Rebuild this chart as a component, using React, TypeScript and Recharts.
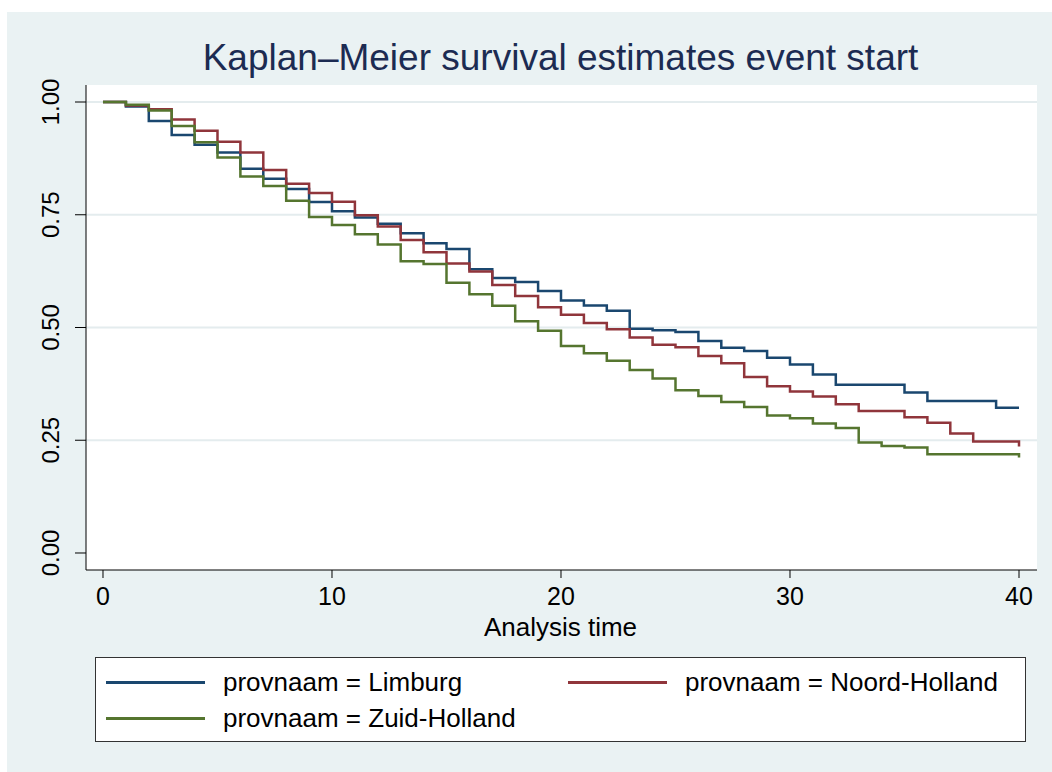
import { LineChart, Line, XAxis, YAxis, CartesianGrid } from 'recharts';

// analysis time (steps at whole units)
const times = [
    0, 1, 2, 3, 4, 5, 6, 7, 8, 9, 10, 11, 12, 13, 14, 15, 16, 17, 18, 19, 20,
    21, 22, 23, 24, 25, 26, 27, 28, 29, 30, 31, 32, 33, 34, 35, 36, 37, 38, 39, 40,
];

const limburg = [
    1.0, 0.99, 0.958, 0.927, 0.905, 0.888, 0.852, 0.83, 0.807, 0.778, 0.758,
    0.744, 0.73, 0.709, 0.687, 0.674, 0.629, 0.61, 0.601, 0.581, 0.56,
    0.549, 0.537, 0.497, 0.494, 0.49, 0.47, 0.455, 0.448, 0.433, 0.418,
    0.396, 0.373, 0.373, 0.373, 0.356, 0.337, 0.337, 0.337, 0.322, 0.322,
];

const noordHolland = [
    1.0, 0.992, 0.984, 0.961, 0.936, 0.912, 0.888, 0.849, 0.819, 0.798, 0.779,
    0.749, 0.724, 0.694, 0.667, 0.642, 0.624, 0.594, 0.57, 0.545, 0.528,
    0.51, 0.496, 0.478, 0.462, 0.456, 0.437, 0.421, 0.39, 0.37, 0.358,
    0.347, 0.33, 0.315, 0.315, 0.301, 0.289, 0.265, 0.247, 0.247, 0.236,
];

const zuidHolland = [
    1.0, 0.994, 0.981, 0.947, 0.911, 0.877, 0.835, 0.814, 0.781, 0.745, 0.727,
    0.707, 0.684, 0.647, 0.641, 0.599, 0.574, 0.548, 0.514, 0.493, 0.459,
    0.443, 0.426, 0.406, 0.387, 0.361, 0.348, 0.335, 0.324, 0.305, 0.299,
    0.287, 0.277, 0.245, 0.237, 0.234, 0.219, 0.219, 0.219, 0.219, 0.212,
];

const xTicks = [0, 10, 20, 30, 40];
const yTicks = [0, 0.25, 0.5, 0.75, 1];
const gridValues = [0.25, 0.5, 0.75, 1];

const series = [
    { key: 'limburg', label: 'provnaam = Limburg', color: '#1A476F' },
    { key: 'noord', label: 'provnaam = Noord-Holland', color: '#90353B' },
    { key: 'zuid', label: 'provnaam = Zuid-Holland', color: '#55752F' },
];

const data = times.map((t, i) => ({
    t,
    limburg: limburg[i],
    noord: noordHolland[i],
    zuid: zuidHolland[i],
}));

const FONT = '"Liberation Sans", Arial, sans-serif';

const XTick = ({ x, y, payload }: any) => (
    <text x={x} y={y} dy={25} textAnchor="middle" fontFamily={FONT} fontSize={25} fill="#000">
        {payload.value}
    </text>
);

const YTick = ({ x, y, payload }: any) => (
    <text
        x={x - 14}
        y={y}
        textAnchor="middle"
        fontFamily={FONT}
        fontSize={24}
        fill="#000"
        transform={`rotate(-90, ${x - 14}, ${y})`}
    >
        {Number(payload.value).toFixed(2)}
    </text>
);

function LegendRow({ item, left, top }: { item: typeof series[number]; left: number; top: number }) {
    return (
        <div style={{ position: 'absolute', left, top, display: 'flex', alignItems: 'center', height: 30 }}>
            <div style={{ width: 99, height: 3, background: item.color }} />
            <span style={{ marginLeft: 18, fontSize: 26, fontFamily: FONT, color: '#000', whiteSpace: 'nowrap' }}>
                {item.label}
            </span>
        </div>
    );
}

export default function App() {
    return (
        <div style={{ position: 'absolute', left: 0, top: 0, width: 1052, height: 772, background: '#fff', overflow: 'hidden' }}>
            <div style={{ position: 'absolute', left: 7, top: 12, right: 0, bottom: 0, background: '#EAF2F3' }} />

            <div
                style={{
                    position: 'absolute', left: 0, top: 37, width: 1121, textAlign: 'center',
                    fontFamily: FONT, fontSize: 37, color: '#1C2B52', whiteSpace: 'nowrap',
                }}
            >
                Kaplan–Meier survival estimates event start
            </div>

            <div style={{ position: 'absolute', left: 0, top: 0 }}>
                <LineChart
                    width={1052}
                    height={772}
                    data={data}
                    margin={{ top: 85, right: 15, bottom: 142, left: 0 }}
                >
                    <CartesianGrid
                        vertical={false}
                        horizontalValues={gridValues}
                        stroke="#E4ECEE"
                        strokeWidth={2}
                        fill="#fff"
                        fillOpacity={1}
                    />
                    <XAxis
                        dataKey="t"
                        type="number"
                        domain={[-0.742, 40.786]}
                        ticks={xTicks}
                        allowDataOverflow
                        height={60}
                        tickSize={8}
                        tickMargin={2}
                        axisLine={{ stroke: '#000' }}
                        tickLine={{ stroke: '#000' }}
                        tick={<XTick />}
                        interval={0}
                    />
                    <YAxis
                        type="number"
                        domain={[-0.0377, 1.0377]}
                        ticks={yTicks}
                        allowDataOverflow
                        width={86}
                        tickSize={11}
                        tickMargin={2}
                        axisLine={{ stroke: '#000' }}
                        tickLine={{ stroke: '#000' }}
                        tick={<YTick />}
                        interval={0}
                    />
                    {series.map((s) => (
                        <Line
                            key={s.key}
                            type="stepAfter"
                            dataKey={s.key}
                            stroke={s.color}
                            strokeWidth={2.5}
                            dot={false}
                            activeDot={false}
                            isAnimationActive={false}
                        />
                    ))}
                </LineChart>
            </div>

            <div
                style={{
                    position: 'absolute', left: 0, top: 612, width: 1121, textAlign: 'center',
                    fontFamily: FONT, fontSize: 26, color: '#000',
                }}
            >
                Analysis time
            </div>

            <div
                style={{
                    position: 'absolute', left: 95, top: 657, width: 929, height: 83,
                    background: '#fff', border: '1px solid #333',
                }}
            />
            <LegendRow item={series[0]} left={106} top={667} />
            <LegendRow item={series[1]} left={568} top={667} />
            <LegendRow item={series[2]} left={106} top={703} />
        </div>
    );
}
